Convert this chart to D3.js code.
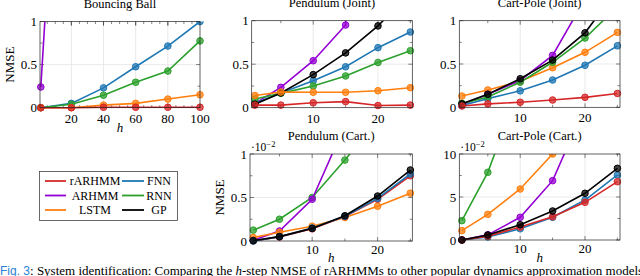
<!DOCTYPE html>
<html>
<head>
<meta charset="utf-8">
<script src="https://cdn.jsdelivr.net/npm/d3@7"></script>
<style>
  body { margin: 0; background: #fff; }
  svg { display: block; }
</style>
</head>
<body>
<div id="chart"></div>
<script>
// step horizons
const hBall = [1, 20, 40, 60, 80, 100];
const hSteps = [1, 5, 10, 15, 20, 25];

const colors = { rARHMM: "#d62728", ARHMM: "#9400d3", LSTM: "#ff7f0e", FNN: "#1f77b4", RNN: "#2ca02c", GP: "#000000" };
const serif = "'Liberation Serif', 'DejaVu Serif', 'Times New Roman', serif";

// Bouncing Ball
const ballRARHMM = [0.0, 0.0, 0.005, 0.005, 0.005, 0.005];
const ballARHMM = [0.24, 6.0, 20, 40, 60, 80];
const ballLSTM = [0.0, 0.0, 0.03, 0.05, 0.10, 0.15];
const ballFNN = [0.0, 0.05, 0.23, 0.475, 0.715, 1.0];
const ballRNN = [0.0, 0.04, 0.145, 0.295, 0.425, 0.775];

// Pendulum (Joint)
const pendJRARHMM = [0.03, 0.03, 0.057, 0.07, 0.025, 0.03];
const pendJARHMM = [0.05, 0.234, 0.54, 0.95, 12, 20];
const pendJLSTM = [0.14, 0.18, 0.177, 0.177, 0.195, 0.23];
const pendJFNN = [0.05, 0.17, 0.31, 0.47, 0.69, 0.87];
const pendJRNN = [0.1, 0.165, 0.25, 0.365, 0.52, 0.655];
const pendJGP = [0.04, 0.17, 0.38, 0.63, 0.94, 1.32];

// Cart-Pole (Joint)
const cartJRARHMM = [0.015, 0.04, 0.058, 0.084, 0.115, 0.16];
const cartJARHMM = [0.03, 0.15, 0.31, 0.6, 1.25, 3.0];
const cartJLSTM = [0.13, 0.2, 0.3, 0.457, 0.635, 0.865];
const cartJFNN = [0.02, 0.1, 0.19, 0.315, 0.485, 0.71];
const cartJRNN = [0.045, 0.12, 0.29, 0.52, 0.8, 1.16];
const cartJGP = [0.04, 0.15, 0.33, 0.545, 0.86, 1.36];

// Pendulum (Cart.)  (x 1e-2)
const pendCRARHMM = [0.0, 0.045, 0.14, 0.28, 0.48, 0.75];
const pendCARHMM = [0.01, 0.115, 0.48, 1.33, 3.0, 5.0];
const pendCLSTM = [0.04, 0.10, 0.17, 0.27, 0.40, 0.55];
const pendCFNN = [0.0, 0.05, 0.15, 0.285, 0.49, 0.77];
const pendCRNN = [0.125, 0.25, 0.50, 0.93, 1.4, 2.0];
const pendCGP = [0.005, 0.05, 0.145, 0.29, 0.517, 0.816];

// Cart-Pole (Cart.)  (x 1e-2)
const cartCRARHMM = [0.0, 0.45, 1.5, 2.7, 4.38, 6.78];
const cartCARHMM = [0.0, 0.6, 2.64, 6.9, 15.5, 30];
const cartCLSTM = [1.09, 2.98, 5.93, 10.0, 15, 22];
const cartCFNN = [0.0, 0.35, 1.3, 2.64, 4.65, 7.56];
const cartCRNN = [2.25, 7.87, 18, 30, 40, 50];
const cartCGP = [0.0, 0.58, 1.78, 3.37, 5.43, 8.33];

const halfFmt = d => d === 0 ? "0" : d === 1 ? "1" : "0.5";

const panels = [
  { title: "Bouncing Ball", x0: 40, x1: 200, y0: 21.5, y1: 107.7, xDomain: [0.5, 100], yDomain: [0, 1],
    xTicks: [20, 40, 60, 80, 100], xMinor: d3.range(5, 100, 5), yTicks: [0, 0.5, 1], yMinor: [0.25, 0.75],
    yFmt: halfFmt, tickDy: 15, xLabelY: 131.5, yLabel: true, h: hBall,
    series: { rARHMM: ballRARHMM, ARHMM: ballARHMM, LSTM: ballLSTM, FNN: ballFNN, RNN: ballRNN },
    order: ["ARHMM", "FNN", "RNN", "LSTM", "rARHMM"] },
  { title: "Pendulum (Joint)", x0: 251.7, x1: 412.3, y0: 20.7, y1: 107.7, xDomain: [0.5, 25.3], yDomain: [0, 1],
    xTicks: [10, 20], xMinor: [5, 15, 25], yTicks: [0, 0.5, 1], yMinor: [0.25, 0.75],
    yFmt: halfFmt, tickDy: 15, h: hSteps,
    series: { rARHMM: pendJRARHMM, ARHMM: pendJARHMM, LSTM: pendJLSTM, FNN: pendJFNN, RNN: pendJRNN, GP: pendJGP },
    order: ["ARHMM", "FNN", "RNN", "GP", "LSTM", "rARHMM"] },
  { title: "Cart-Pole (Joint)", x0: 459.3, x1: 620, y0: 20.7, y1: 107.3, xDomain: [0.6, 25.4], yDomain: [0, 1],
    xTicks: [10, 20], xMinor: [5, 15, 25], yTicks: [0, 0.5, 1], yMinor: [0.25, 0.75],
    yFmt: halfFmt, tickDy: 15, h: hSteps,
    series: { rARHMM: cartJRARHMM, ARHMM: cartJARHMM, LSTM: cartJLSTM, FNN: cartJFNN, RNN: cartJRNN, GP: cartJGP },
    order: ["FNN", "LSTM", "ARHMM", "RNN", "GP", "rARHMM"] },
  { title: "Pendulum (Cart.)", x0: 250, x1: 412.3, y0: 154, y1: 241, xDomain: [0.5, 25.3], yDomain: [0, 1],
    xTicks: [10, 20], xMinor: [5, 15, 25], yTicks: [0, 0.5, 1], yMinor: [0.25, 0.75],
    yFmt: halfFmt, tickDy: 12.5, xLabelY: 261.5, yLabel: true, scaleNote: true, h: hSteps,
    series: { rARHMM: pendCRARHMM, ARHMM: pendCARHMM, LSTM: pendCLSTM, FNN: pendCFNN, RNN: pendCRNN, GP: pendCGP },
    order: ["RNN", "ARHMM", "LSTM", "rARHMM", "FNN", "GP"] },
  { title: "Cart-Pole (Cart.)", x0: 459.3, x1: 620, y0: 154, y1: 240, xDomain: [0.6, 25.4], yDomain: [0, 10],
    xTicks: [10, 20], xMinor: [5, 15, 25], yTicks: [0, 5, 10], yMinor: [2.5, 7.5],
    yFmt: d => String(d), tickDy: 13, xLabelY: 261.5, scaleNote: true, h: hSteps,
    series: { rARHMM: cartCRARHMM, ARHMM: cartCARHMM, LSTM: cartCLSTM, FNN: cartCFNN, RNN: cartCRNN, GP: cartCGP },
    order: ["RNN", "LSTM", "ARHMM", "FNN", "rARHMM", "GP"] }
];

const W = 640, H = 276;
const svg = d3.select("#chart").append("svg").attr("width", W).attr("height", H)
  .attr("font-family", serif).style("font-family", serif);

panels.forEach((p, i) => {
  const x = d3.scaleLinear().domain(p.xDomain).range([p.x0, p.x1]);
  const y = d3.scaleLinear().domain(p.yDomain).range([p.y1, p.y0]);
  const g = svg.append("g");

  // grid
  g.selectAll(".gx").data(p.xTicks.filter(t => x(t) < p.x1 - 1)).enter().append("line")
    .attr("x1", d => x(d)).attr("x2", d => x(d)).attr("y1", p.y0).attr("y2", p.y1)
    .attr("stroke", "#e3e3e3").attr("stroke-width", 0.8);
  g.selectAll(".gy").data(p.yTicks.filter(t => y(t) > p.y0 + 1 && y(t) < p.y1 - 1)).enter().append("line")
    .attr("x1", p.x0).attr("x2", p.x1).attr("y1", d => y(d)).attr("y2", d => y(d))
    .attr("stroke", "#e3e3e3").attr("stroke-width", 0.8);

  // ticks (inward, both sides)
  const tk = g.append("g").attr("stroke", "#333").attr("stroke-width", 0.6);
  p.xTicks.concat(p.xMinor).forEach(t => {
    const len = p.xTicks.includes(t) ? 4 : 2.5;
    tk.append("line").attr("x1", x(t)).attr("x2", x(t)).attr("y1", p.y1).attr("y2", p.y1 - len);
    tk.append("line").attr("x1", x(t)).attr("x2", x(t)).attr("y1", p.y0).attr("y2", p.y0 + len);
  });
  p.yTicks.concat(p.yMinor).forEach(t => {
    const len = p.yTicks.includes(t) ? 4 : 2.5;
    tk.append("line").attr("x1", p.x0).attr("x2", p.x0 + len).attr("y1", y(t)).attr("y2", y(t));
    tk.append("line").attr("x1", p.x1).attr("x2", p.x1 - len).attr("y1", y(t)).attr("y2", y(t));
  });

  // clip: lines leaving the top are cut at the frame
  const cid = "clip" + i;
  svg.append("clipPath").attr("id", cid).append("rect")
    .attr("x", p.x0 - 5).attr("y", p.y0).attr("width", p.x1 - p.x0 + 10).attr("height", p.y1 - p.y0 + 10);

  const line = d3.line().x((d, j) => x(p.h[j])).y(d => y(d));
  const plot = g.append("g").attr("clip-path", `url(#${cid})`);
  p.order.forEach(m => {
    const vals = p.series[m];
    plot.append("path").datum(vals).attr("d", line)
      .attr("fill", "none").attr("stroke", colors[m]).attr("stroke-width", 1.6);
    plot.selectAll(".pt" + m).data(vals.map((v, j) => [p.h[j], v]).filter(d => d[1] <= p.yDomain[1] * 1.03))
      .enter().append("circle")
      .attr("cx", d => x(d[0])).attr("cy", d => y(d[1])).attr("r", 3.3)
      .attr("fill", colors[m]).attr("fill-opacity", 0.75)
      .attr("stroke", colors[m]).attr("stroke-width", 1);
  });

  // frame
  g.append("rect").attr("x", p.x0).attr("y", p.y0).attr("width", p.x1 - p.x0).attr("height", p.y1 - p.y0)
    .attr("fill", "none").attr("stroke", "#222").attr("stroke-width", 0.7);

  // tick labels
  g.selectAll(".xl").data(p.xTicks).enter().append("text")
    .attr("x", d => x(d)).attr("y", p.y1 + p.tickDy).attr("text-anchor", "middle")
    .attr("font-size", 13).text(d => d);
  g.selectAll(".yl").data(p.yTicks).enter().append("text")
    .attr("x", p.x0 - 3).attr("y", d => y(d) + 4.5).attr("text-anchor", "end")
    .attr("font-size", 13).text(p.yFmt);

  // title
  g.append("text").attr("x", (p.x0 + p.x1) / 2).attr("y", p.y0 - 14).attr("text-anchor", "middle")
    .attr("font-size", 12.5).text(p.title);

  if (p.xLabelY) {
    g.append("text").attr("x", (p.x0 + p.x1) / 2).attr("y", p.xLabelY).attr("text-anchor", "middle")
      .attr("font-size", 13).attr("font-style", "italic").text("h");
  }
  if (p.yLabel) {
    g.append("text").attr("transform", `translate(${p.x0 - 26},${(p.y0 + p.y1) / 2}) rotate(-90)`)
      .attr("text-anchor", "middle").attr("font-size", 13).text("NMSE");
  }
  if (p.scaleNote) {
    const t = g.append("text").attr("x", p.x0 + 1).attr("y", p.y0 - 3).attr("font-size", 11.5);
    t.append("tspan").text("·10");
    t.append("tspan").attr("dy", -4).attr("font-size", 8.5).text("−2");
  }
});

// legend
const leg = svg.append("g");
leg.append("rect").attr("x", 39.5).attr("y", 171.5).attr("width", 138).attr("height", 49)
  .attr("fill", "#fff").attr("stroke", "#444").attr("stroke-width", 0.8);
const legCols = [["rARHMM", "ARHMM", "LSTM"], ["FNN", "RNN", "GP"]];
const colX = [{ l0: 45, l1: 66, tx: 95 }, { l0: 122, l1: 144, tx: 159 }];
legCols.forEach((col, ci) => {
  col.forEach((m, ri) => {
    const yy = 181 + ri * 14.5;
    leg.append("line").attr("x1", colX[ci].l0).attr("x2", colX[ci].l1).attr("y1", yy).attr("y2", yy)
      .attr("stroke", colors[m]).attr("stroke-width", 1.8);
    leg.append("text").attr("x", colX[ci].tx).attr("y", yy + 4.3).attr("text-anchor", "middle")
      .attr("font-size", 12).text(m);
  });
});

// caption
const cap = svg.append("text").attr("x", 0).attr("y", 274.5).attr("font-size", 13);
cap.append("tspan").attr("fill", "#2a7fd4").style("font-family", "'Liberation Sans', Arial, sans-serif")
  .attr("font-size", 12).text("Fig. 3");
cap.append("tspan").text(": System identification: Comparing the ");
cap.append("tspan").attr("font-style", "italic").text("h");
cap.append("tspan").text("-step NMSE of rARHMMs to other popular dynamics approximation models");
</script>
</body>
</html>
